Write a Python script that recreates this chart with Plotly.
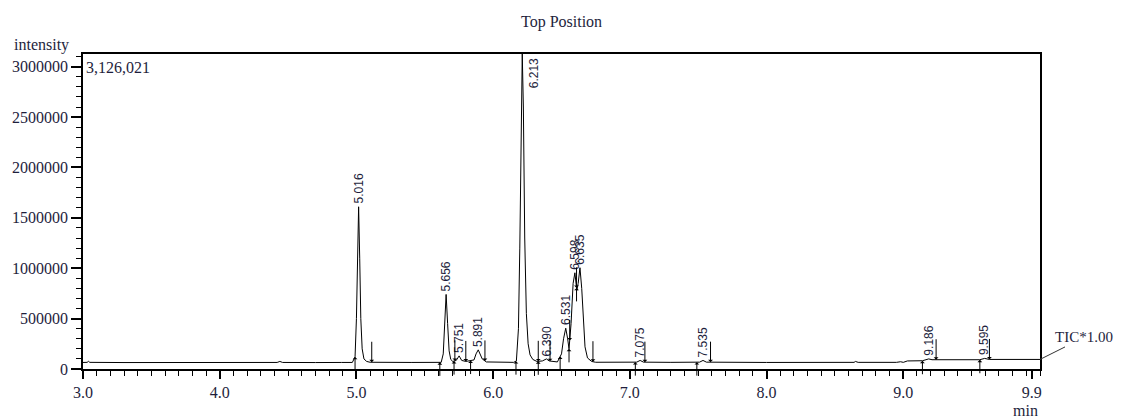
import numpy as np
import plotly.graph_objects as go

# ---- chromatogram trace (time in min, intensity) ----
time = [3.00, 3.03, 3.04, 3.05, 3.30, 3.60, 4.00, 4.42, 4.44, 4.46, 4.70, 4.87, 4.88, 4.89,
        4.97, 4.99, 5.000, 5.008, 5.016, 5.024, 5.032, 5.042, 5.055, 5.075, 5.10,
        5.40, 5.62, 5.635, 5.645, 5.656, 5.667, 5.678, 5.69, 5.705, 5.73, 5.751, 5.77,
        5.80, 5.86, 5.875, 5.891, 5.905, 5.92, 5.95, 6.15, 6.17, 6.185, 6.195, 6.205,
        6.213, 6.221, 6.231, 6.243, 6.256, 6.27, 6.29, 6.32, 6.36, 6.39, 6.41, 6.47,
        6.50, 6.515, 6.531, 6.545, 6.555, 6.57, 6.585, 6.598, 6.612, 6.622, 6.635,
        6.648, 6.66, 6.672, 6.69, 6.72, 6.75, 7.05, 7.075, 7.10, 7.30, 7.51, 7.535,
        7.56, 8.00, 8.30, 8.64, 8.65, 8.67, 8.95, 8.98, 9.00, 9.03, 9.14, 9.16,
        9.186, 9.21, 9.25, 9.56, 9.595, 9.63, 10.00]
intensity = [65000, 66000, 76000, 66000, 64000, 65000, 64000, 65000, 75000, 65000, 64000,
             65000, 72000, 65000,
             65000, 120000, 500000, 1100000, 1610000, 1100000, 500000, 200000, 100000, 75000, 67000,
             65000, 66000, 150000, 450000, 740000, 450000, 180000, 95000, 75000, 85000, 130000, 85000,
             75000, 90000, 150000, 190000, 150000, 100000, 70000, 66000, 80000, 400000, 1200000, 2600000,
             3126021, 2600000, 1300000, 550000, 250000, 140000, 95000, 75000, 80000, 100000, 80000, 70000,
             150000, 300000, 405000, 300000, 200000, 450000, 850000, 955000, 780000, 850000, 1005000,
             800000, 450000, 220000, 110000, 75000, 67000, 68000, 85000, 68000, 66000, 68000, 85000,
             68000, 65000, 66000, 66000, 75000, 66000, 66000, 72000, 66000, 80000, 82000, 88000,
             100000, 92000, 92000, 92000, 105000, 95000, 95000]

# ---- integrated peaks ----
peak_rt = [5.016, 5.656, 5.751, 5.891, 6.213, 6.390, 6.531, 6.598, 6.635, 7.075, 7.535, 9.186, 9.595]
peak_label = ["5.016", "5.656", "5.751", "5.891", "6.213", "6.390", "6.531", "6.598", "6.635",
              "7.075", "7.535", "9.186", "9.595"]
peak_height = [1610000, 740000, 130000, 190000, 3126021, 100000, 405000, 955000, 1005000,
               85000, 85000, 100000, 105000]
peak_start = [4.99, 5.61, 5.714, 5.835, 6.167, 6.33, 6.49, 6.555, 6.61, 7.04, 7.49, 9.14, 9.56]
peak_end = [5.112, 5.72, 5.80, 5.94, 6.33, 6.416, 6.56, 6.61, 6.73, 7.11, 7.59, 9.24, 9.63]

y_max = 3126021
x_ticks = [3.0, 4.0, 5.0, 6.0, 7.0, 8.0, 9.0, 9.94]
x_tick_text = ["3.0", "4.0", "5.0", "6.0", "7.0", "8.0", "9.0", "9.9"]
y_ticks = [0, 500000, 1000000, 1500000, 2000000, 2500000, 3000000]
y_tick_text = ["0", "500000", "1000000", "1500000", "2000000", "2500000", "3000000"]

SERIF = "Liberation Serif"
SANS = "Liberation Sans"
TXT = "#1e1e3c"

fig = go.Figure()
fig.add_trace(go.Scatter(x=time, y=intensity, mode="lines",
                         line=dict(color="black", width=1), hoverinfo="skip",
                         showlegend=False, cliponaxis=True))

ann = []
# peak labels
for rt, lab, h in zip(peak_rt, peak_label, peak_height):
    if h >= 0.95 * y_max:
        ann.append(dict(x=rt, y=h, xref="x", yref="y", text=lab, textangle=-90,
                        showarrow=False, xanchor="left", yanchor="top", xshift=3, yshift=-2,
                        font=dict(family=SANS, size=12, color=TXT)))
    else:
        ann.append(dict(x=rt, y=h, xref="x", yref="y", text=lab, textangle=-90,
                        showarrow=False, xanchor="center", yanchor="bottom", yshift=1,
                        font=dict(family=SANS, size=12, color=TXT)))

# integration markers
t_arr = np.array(time)
i_arr = np.array(intensity)
for s in peak_start:
    yb = float(np.interp(s, t_arr, i_arr))
    ann.append(dict(x=s, y=yb, xref="x", yref="y", ax=0, ay=15, text="", showarrow=True,
                    arrowhead=1, arrowsize=0.8, arrowwidth=1, arrowcolor="black"))
for e in peak_end:
    yb = float(np.interp(e, t_arr, i_arr))
    ann.append(dict(x=e, y=yb, xref="x", yref="y", ax=0, ay=-22, text="", showarrow=True,
                    arrowhead=1, arrowsize=0.8, arrowwidth=1, arrowcolor="black"))

# texts
ann.append(dict(x=0.5, y=1.1016, xref="paper", yref="paper", text="Top Position", showarrow=False,
                xanchor="center", yanchor="middle", font=dict(family=SERIF, size=16, color=TXT)))
ann.append(dict(x=-0.0742, y=1.0286, xref="paper", yref="paper", text="intensity", showarrow=False,
                xanchor="left", yanchor="middle", font=dict(family=SERIF, size=16, color=TXT)))
ann.append(dict(x=0.001, y=0.9556, xref="paper", yref="paper", text=f"{y_max:,}", showarrow=False,
                xanchor="left", yanchor="middle", font=dict(family=SERIF, size=16, color=TXT)))
ann.append(dict(x=1.0, y=-0.133, xref="paper", yref="paper", text="min", showarrow=False,
                xanchor="right", yanchor="middle", font=dict(family=SERIF, size=16, color=TXT)))
ann.append(dict(x=time[-1], y=intensity[-1], xref="x", yref="y", text="TIC*1.00", showarrow=True,
                arrowhead=0, arrowwidth=1, arrowcolor="#333", ax=44, ay=-22,
                font=dict(family=SERIF, size=15, color=TXT)))

# the page adds an 8 px body margin, so the figure is sized to fit the 1123x418 window
fig.update_layout(
    width=1115, height=410,
    margin=dict(l=75, r=83, t=46, b=49, autoexpand=False),
    paper_bgcolor="white", plot_bgcolor="white",
    annotations=ann,
    xaxis=dict(range=[3.0, 10.0], tickvals=x_ticks, ticktext=x_tick_text,
               ticks="outside", ticklen=8, tickwidth=1.5, tickcolor="black",
               showline=True, linecolor="black", linewidth=1.5, mirror=True,
               showgrid=False, zeroline=False, automargin=False,
               tickfont=dict(family=SERIF, size=16, color=TXT),
               minor=dict(dtick=0.1, tick0=3.0, ticks="outside", ticklen=5, tickwidth=1.2,
                          tickcolor="black", showgrid=False)),
    yaxis=dict(range=[0, y_max], tickvals=y_ticks, ticktext=y_tick_text,
               ticks="outside", ticklen=10, tickwidth=1.5, tickcolor="black",
               showline=True, linecolor="black", linewidth=1.5, mirror=True,
               showgrid=False, zeroline=False, automargin=False,
               tickfont=dict(family=SERIF, size=16, color=TXT),
               minor=dict(dtick=100000, tick0=0, ticks="outside", ticklen=5, tickwidth=1.2,
                          tickcolor="black", showgrid=False)),
)

fig.write_html("out.html", config={"displayModeBar": False})
